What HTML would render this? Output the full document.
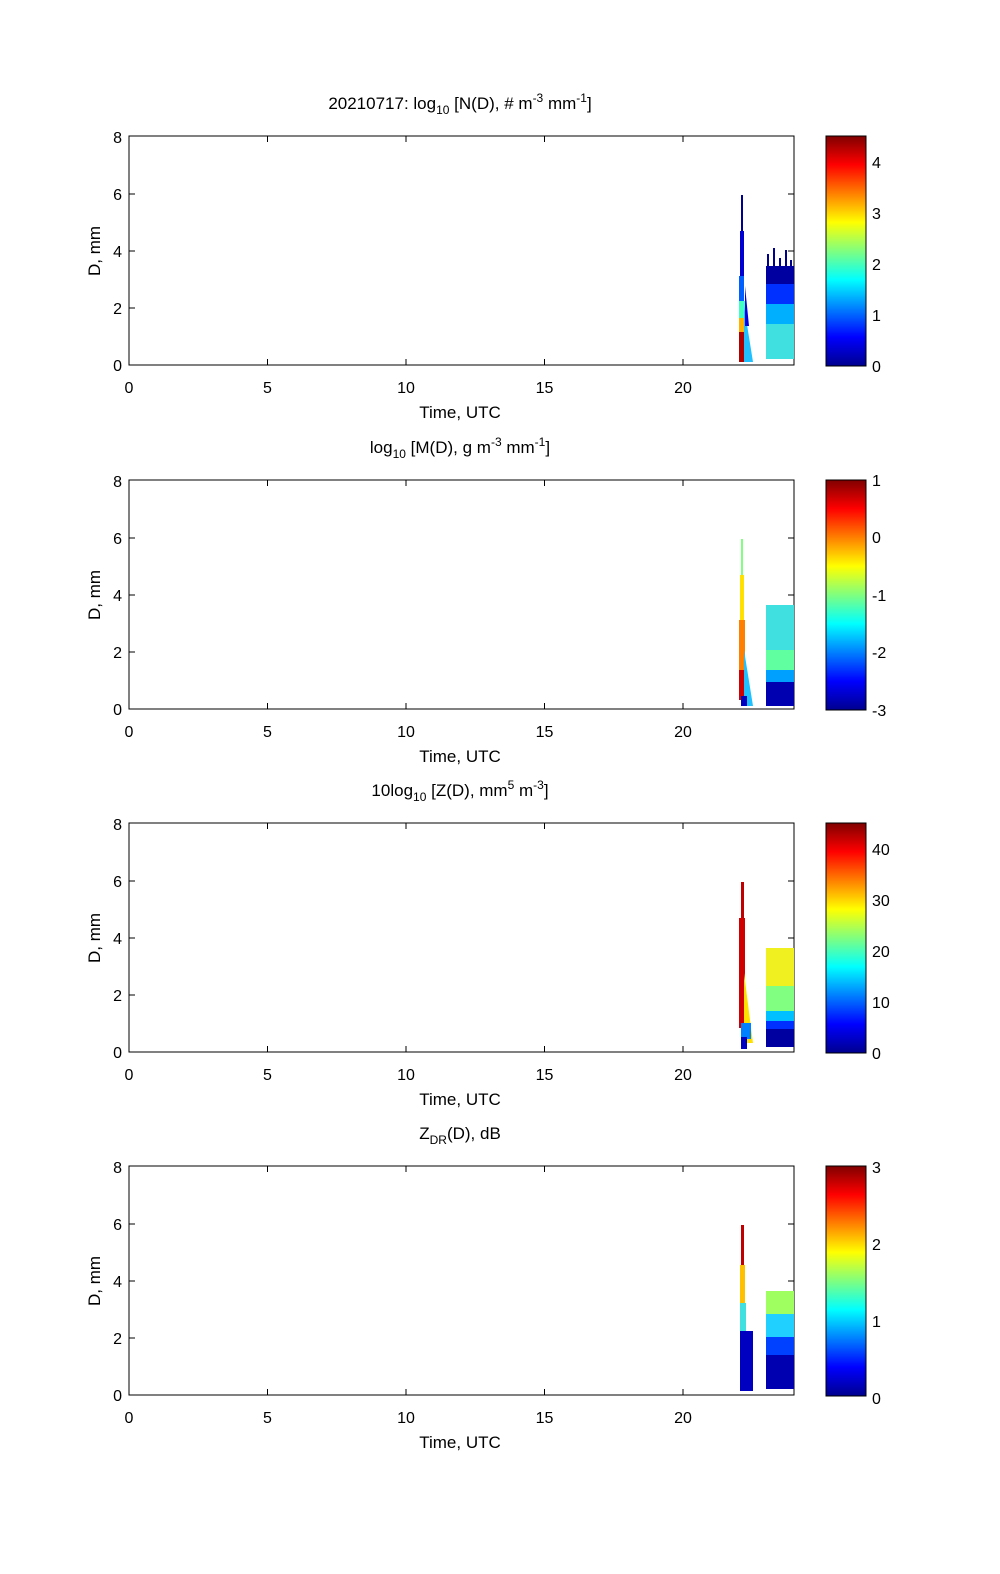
<!DOCTYPE html>
<html><head><style>html,body{margin:0;padding:0;background:#fff;overflow:hidden;width:1000px;height:1574px}svg{display:block;font-family:"Liberation Sans",Arial,sans-serif}</style></head>
<body>
<svg width="1000" height="1574" viewBox="0 0 1000 1574" xmlns="http://www.w3.org/2000/svg">
<defs>
<linearGradient id="jet" x1="0" y1="1" x2="0" y2="0">
<stop offset="0" stop-color="#00008f"/><stop offset="0.125" stop-color="#0000ff"/><stop offset="0.375" stop-color="#00ffff"/><stop offset="0.625" stop-color="#ffff00"/><stop offset="0.875" stop-color="#ff0000"/><stop offset="1" stop-color="#800000"/>
</linearGradient>
<g id="axes">
<rect x="129" y="0" width="665" height="229" fill="none" stroke="#000" stroke-width="1"/>
<g stroke="#000">
<path d="M129 229v-6M267.5 229v-6M406 229v-6M544.5 229v-6M683 229v-6M129 0v6M267.5 0v6M406 0v6M544.5 0v6M683 0v6"/>
<path d="M129 229h6M129 172h6M129 115h6M129 58h6M794 229h-6M794 172h-6M794 115h-6M794 58h-6"/>
</g>
<g font-size="16" text-anchor="end"><text x="122" y="235">0</text><text x="122" y="178">2</text><text x="122" y="121">4</text><text x="122" y="64">6</text><text x="122" y="7">8</text></g>
<g font-size="16" text-anchor="middle"><text x="129" y="257">0</text><text x="267.5" y="257">5</text><text x="406" y="257">10</text><text x="544.5" y="257">15</text><text x="683" y="257">20</text>
<text x="460" y="282" font-size="17">Time, UTC</text></g>
<text transform="translate(100 115) rotate(-90)" font-size="17" text-anchor="middle">D, mm</text>
<rect x="826" y="0" width="40" height="230" fill="url(#jet)" stroke="#000"/>
</g>
</defs>

<!-- Panel 1 -->
<g transform="translate(0 136)">
<use href="#axes"/>
<g>
<rect x="741" y="59" width="2" height="40" fill="#000090"/>
<rect x="740" y="95" width="4" height="45" fill="#0000d0"/>
<rect x="739" y="140" width="5" height="30" fill="#0060ff"/>
<rect x="739" y="165" width="6" height="20" fill="#40ffc0"/>
<rect x="739" y="182" width="6" height="16" fill="#ffb000"/>
<rect x="739" y="196" width="6" height="30" fill="#b00000"/>
<path d="M744 170L753 226H744Z" fill="#20c0ff"/>
<path d="M745 150L749 190L745 190Z" fill="#0000e0"/>
<rect x="766" y="130" width="28" height="20" fill="#0000a0"/>
<rect x="766" y="148" width="28" height="22" fill="#0030ff"/>
<rect x="766" y="168" width="28" height="22" fill="#00b0ff"/>
<rect x="766" y="188" width="28" height="35" fill="#40e0e0"/>
<path d="M768 130v-12M774 130v-18M780 130v-8M786 130v-16M791 130v-6" stroke="#00008f" stroke-width="2"/>
</g>
<g font-size="16"><text x="872" y="236">0</text><text x="872" y="185">1</text><text x="872" y="134">2</text><text x="872" y="83">3</text><text x="872" y="32">4</text></g>
<text x="460" y="-27" font-size="17" text-anchor="middle">20210717: log<tspan font-size="12" dy="5">10</tspan><tspan dy="-5"> [N(D), # m</tspan><tspan font-size="12" dy="-7">-3</tspan><tspan dy="7"> mm</tspan><tspan font-size="12" dy="-7">-1</tspan><tspan dy="7">]</tspan></text>
</g>

<!-- Panel 2 -->
<g transform="translate(0 480)">
<use href="#axes"/>
<rect x="741" y="59" width="2" height="40" fill="#80ff80"/>
<rect x="740" y="95" width="4" height="45" fill="#ffe000"/>
<rect x="739" y="140" width="6" height="70" fill="#ff8000"/>
<rect x="739" y="190" width="5" height="30" fill="#d00000"/>
<path d="M744 170L753 226H744Z" fill="#20c0ff"/>
<rect x="741" y="216" width="6" height="10" fill="#0000c0"/>
<rect x="766" y="125" width="28" height="50" fill="#40e0e0"/>
<rect x="766" y="170" width="28" height="20" fill="#60ffa0"/>
<rect x="766" y="190" width="28" height="12" fill="#00a0ff"/>
<rect x="766" y="202" width="28" height="24" fill="#0000b0"/>
<g font-size="16"><text x="872" y="236">-3</text><text x="872" y="178">-2</text><text x="872" y="121">-1</text><text x="872" y="63">0</text><text x="872" y="6">1</text></g>
<text x="460" y="-27" font-size="17" text-anchor="middle">log<tspan font-size="12" dy="5">10</tspan><tspan dy="-5"> [M(D), g m</tspan><tspan font-size="12" dy="-7">-3</tspan><tspan dy="7"> mm</tspan><tspan font-size="12" dy="-7">-1</tspan><tspan dy="7">]</tspan></text>
</g>

<!-- Panel 3 -->
<g transform="translate(0 823)">
<use href="#axes"/>
<rect x="741" y="59" width="3" height="40" fill="#c00000"/>
<rect x="739" y="95" width="6" height="110" fill="#d00000"/>
<path d="M744 150L753 220H744Z" fill="#ffe000"/>
<rect x="741" y="200" width="10" height="16" fill="#0080ff"/>
<rect x="741" y="214" width="6" height="12" fill="#0000c0"/>
<rect x="766" y="125" width="28" height="40" fill="#f0f020"/>
<rect x="766" y="163" width="28" height="27" fill="#80ff80"/>
<rect x="766" y="188" width="28" height="12" fill="#00c0ff"/>
<rect x="766" y="198" width="28" height="10" fill="#0030ff"/>
<rect x="766" y="206" width="28" height="18" fill="#0000a0"/>
<g font-size="16"><text x="872" y="236">0</text><text x="872" y="185">10</text><text x="872" y="134">20</text><text x="872" y="83">30</text><text x="872" y="32">40</text></g>
<text x="460" y="-27" font-size="17" text-anchor="middle">10log<tspan font-size="12" dy="5">10</tspan><tspan dy="-5"> [Z(D),  mm</tspan><tspan font-size="12" dy="-7">5</tspan><tspan dy="7"> m</tspan><tspan font-size="12" dy="-7">-3</tspan><tspan dy="7">]</tspan></text>
</g>

<!-- Panel 4 -->
<g transform="translate(0 1166)">
<use href="#axes"/>
<rect x="741" y="59" width="3" height="40" fill="#c00000"/>
<rect x="740" y="99" width="5" height="40" fill="#ffc000"/>
<rect x="740" y="137" width="6" height="30" fill="#40e0e0"/>
<rect x="740" y="165" width="13" height="60" fill="#0000c0"/>
<rect x="766" y="125" width="28" height="25" fill="#a0ff60"/>
<rect x="766" y="148" width="28" height="25" fill="#20d0ff"/>
<rect x="766" y="171" width="28" height="20" fill="#0040ff"/>
<rect x="766" y="189" width="28" height="34" fill="#0000b0"/>
<g font-size="16"><text x="872" y="238">0</text><text x="872" y="161">1</text><text x="872" y="84">2</text><text x="872" y="7">3</text></g>
<text x="460" y="-27" font-size="17" text-anchor="middle">Z<tspan font-size="12" dy="5">DR</tspan><tspan dy="-5">(D), dB</tspan></text>
</g>
</svg>
</body></html>
